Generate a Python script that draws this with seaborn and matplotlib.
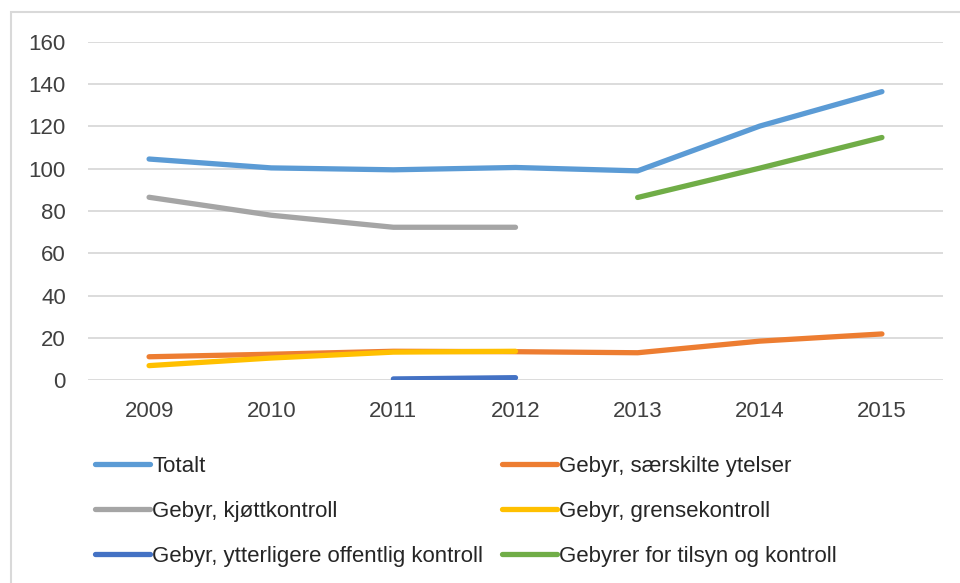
import numpy as np
import pandas as pd
import matplotlib
matplotlib.use("Agg")
import matplotlib.pyplot as plt
import seaborn as sns
from matplotlib.patches import Rectangle

years = [2009, 2010, 2011, 2012, 2013, 2014, 2015]
nan = np.nan

# Values
totalt = [104.6, 100.4, 99.5, 100.6, 99.0, 120.2, 136.5]
saerskilte = [11.0, 12.2, 13.6, 13.4, 12.9, 18.4, 21.8]
kjottkontroll = [86.5, 78.0, 72.3, 72.3, nan, nan, nan]
grensekontroll = [6.8, 10.4, 13.2, 13.6, nan, nan, nan]
ytterligere = [nan, nan, 0.5, 1.1, nan, nan, nan]
tilsyn = [nan, nan, nan, nan, 86.4, 100.3, 114.8]

series = {
    "Totalt": totalt,
    "Gebyr, særskilte ytelser": saerskilte,
    "Gebyr, kjøttkontroll": kjottkontroll,
    "Gebyr, grensekontroll": grensekontroll,
    "Gebyr, ytterligere offentlig kontroll": ytterligere,
    "Gebyrer for tilsyn og kontroll": tilsyn,
}
colors = {
    "Totalt": "#5B9BD5",
    "Gebyr, særskilte ytelser": "#ED7D31",
    "Gebyr, kjøttkontroll": "#A5A5A5",
    "Gebyr, grensekontroll": "#FFC000",
    "Gebyr, ytterligere offentlig kontroll": "#4472C4",
    "Gebyrer for tilsyn og kontroll": "#70AD47",
}

df = pd.DataFrame(
    [(y, name, v) for name, vals in series.items() for y, v in zip(years, vals)],
    columns=["year", "serie", "value"],
).dropna()

sns.set_style("white")
plt.rcParams["font.family"] = ["Liberation Sans", "DejaVu Sans"]

fig = plt.figure(figsize=(9.6, 5.83), dpi=100)
ax = fig.add_axes([88 / 960, 1 - 380 / 583, (943 - 88) / 960, (380 - 42) / 583])

sns.lineplot(data=df, x="year", y="value", hue="serie", hue_order=list(series),
             palette=colors, linewidth=3.8, solid_capstyle="round", ax=ax,
             legend=False)

ax.set_xlim(2008.5, 2015.5)
ax.set_ylim(0, 160)
ax.set_xticks(years)
ax.set_yticks(range(0, 161, 20))
ax.grid(axis="y", color="#D9D9D9", linewidth=1.3)
ax.set_axisbelow(True)
for s in ax.spines.values():
    s.set_visible(False)
ax.tick_params(length=0, labelsize=16, colors="#404040")
ax.tick_params(axis="y", pad=16)
ax.tick_params(axis="x", pad=15)
ax.set_xlabel("")
ax.set_ylabel("")

# legend, two columns
order = ["Totalt", "Gebyr, kjøttkontroll", "Gebyr, ytterligere offentlig kontroll",
         "Gebyr, særskilte ytelser", "Gebyr, grensekontroll", "Gebyrer for tilsyn og kontroll"]
handles = [plt.Line2D([], [], color=colors[n], linewidth=3.8, solid_capstyle="round") for n in order]
fig.legend(handles, order, ncol=2, loc="upper left", bbox_to_anchor=(75 / 960, 1 - 436 / 583),
           frameon=False, fontsize=16, handlelength=2.48, handletextpad=0.1,
           columnspacing=0.82, labelspacing=1.08, labelcolor="#262626")

# chart frame
fig.patches.append(Rectangle((11 / 960, -0.1), 1.2, 1 - 12 / 583 + 0.1,
                             transform=fig.transFigure, fill=False,
                             edgecolor="#D9D9D9", linewidth=1.5))

fig.savefig("out.png", dpi=100)
